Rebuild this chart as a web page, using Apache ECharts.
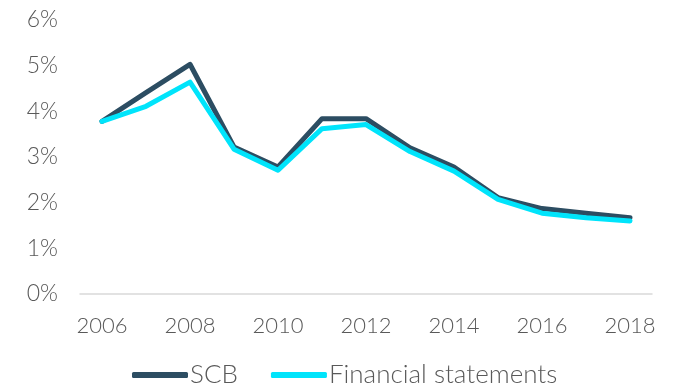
<!DOCTYPE html>
<html>
<head>
<meta charset="utf-8">
<script src="https://cdn.jsdelivr.net/npm/echarts@6/dist/echarts.min.js"></script>
<style>
  html, body { margin: 0; padding: 0; background: #ffffff; }
  #chart { width: 675px; height: 389px; }
</style>
</head>
<body>
<div id="chart"></div>
<script>
// Years on the category axis
const years = ['2006', '2007', '2008', '2009', '2010', '2011', '2012',
               '2013', '2014', '2015', '2016', '2017', '2018'];
// Ratio in percent, by source
const scbValues = [3.78, 4.41, 5.03, 3.22, 2.78, 3.84, 3.84, 3.20, 2.78, 2.11, 1.87, 1.77, 1.67];
const financialStatementValues = [3.78, 4.11, 4.64, 3.17, 2.71, 3.62, 3.71, 3.12, 2.69, 2.07, 1.77, 1.67, 1.60];
// Y axis range and step, percent
const yMin = 0, yMax = 6, yStep = 1;

const textColor = '#595959';
const fontFamily = 'Lato, sans-serif';
const fontWeight = 300;

const chart = echarts.init(document.getElementById('chart'), null, { renderer: 'canvas' });
chart.setOption({
  animation: false,
  backgroundColor: '#ffffff',
  grid: { left: 80, right: 23, top: 20, bottom: 95, containLabel: false },
  legend: {
    bottom: -4,
    left: 127,
    itemWidth: 56,
    itemHeight: 6,
    itemGap: 33,
    icon: 'roundRect',
    textStyle: { color: textColor, fontFamily: fontFamily, fontWeight: fontWeight, fontSize: 26, padding: [0, 0, 0, -3] },
    data: ['SCB', 'Financial statements']
  },
  xAxis: {
    type: 'category',
    data: years,
    boundaryGap: true,
    axisLine: { show: true, lineStyle: { color: '#d9d9d9', width: 1.5 } },
    axisTick: { show: false },
    axisLabel: {
      interval: 1,
      margin: 21,
      color: textColor,
      fontFamily: fontFamily,
      fontWeight: fontWeight,
      fontSize: 22
    },
    splitLine: { show: false }
  },
  yAxis: {
    type: 'value',
    min: yMin,
    max: yMax,
    interval: yStep,
    axisLine: { show: false },
    axisTick: { show: false },
    splitLine: { show: false },
    axisLabel: {
      margin: 22,
      color: textColor,
      fontFamily: fontFamily,
      fontWeight: fontWeight,
      fontSize: 23,
      formatter: v => v + '%'
    }
  },
  series: [
    {
      name: 'SCB',
      type: 'line',
      data: scbValues,
      symbol: 'none',
      color: '#2c4d62',
      lineStyle: { width: 5, color: '#2c4d62', cap: 'round', join: 'round' },
      z: 2
    },
    {
      name: 'Financial statements',
      type: 'line',
      data: financialStatementValues,
      symbol: 'none',
      color: '#00e4fb',
      lineStyle: { width: 5, color: '#00e4fb', cap: 'round', join: 'round' },
      z: 3
    }
  ]
});
</script>
</body>
</html>
